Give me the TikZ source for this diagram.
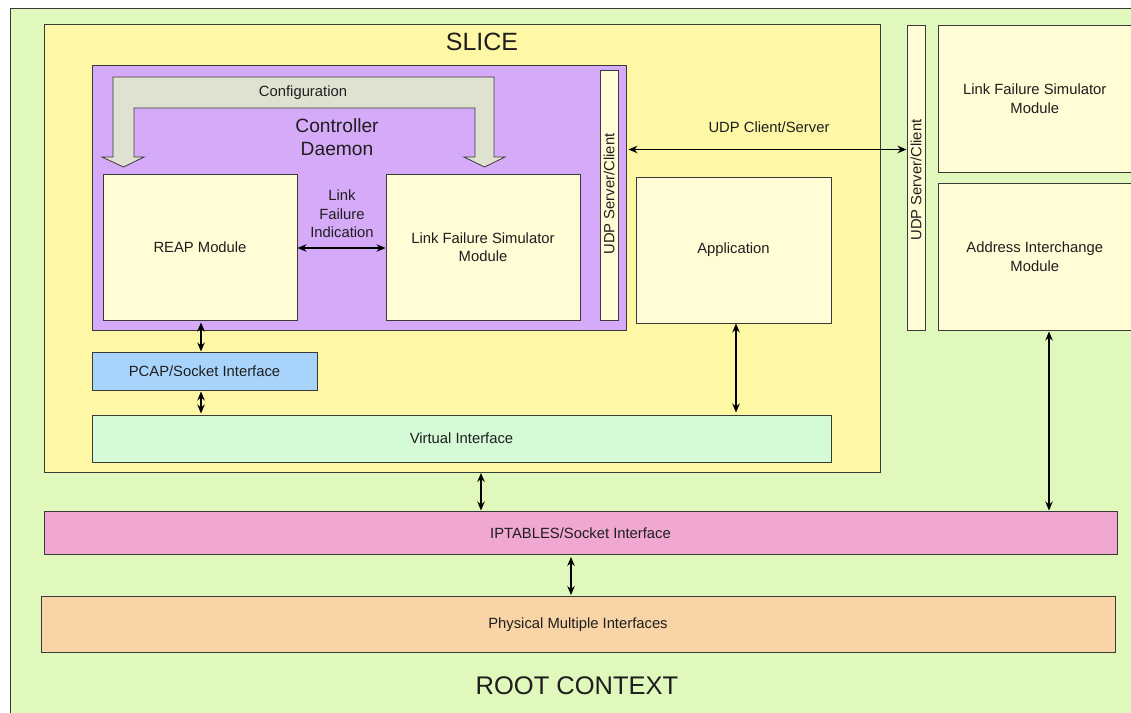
\documentclass[tikz,border=0pt]{standalone}
\usepackage{fontspec}
\setmainfont{Liberation Sans}
\usetikzlibrary{arrows.meta}
\definecolor{rootc}{RGB}{224,248,188}
\definecolor{slicec}{RGB}{254,248,166}
\definecolor{daemonc}{RGB}{213,170,248}
\definecolor{cfgc}{RGB}{223,226,208}
\definecolor{creamc}{RGB}{255,252,214}
\definecolor{pcapc}{RGB}{168,212,252}
\definecolor{virtc}{RGB}{212,250,214}
\definecolor{iptc}{RGB}{240,168,208}
\definecolor{physc}{RGB}{248,212,166}
\definecolor{edgec}{RGB}{58,58,58}
\definecolor{txtc}{RGB}{30,30,30}
\begin{document}
\begin{tikzpicture}[x=1pt,y=-1pt,
  box/.style={draw=edgec, line width=1pt, inner sep=0pt, align=center, text=txtc,
    font=\fontsize{14.8}{18.5}\selectfont},
  lbl/.style={inner sep=0pt, align=center, text=txtc, font=\fontsize{14.8}{18.5}\selectfont},
  link/.style={{Stealth[length=9pt,width=7.5pt,inset=3pt]}-{Stealth[length=9pt,width=7.5pt,inset=3pt]},
    line width=1.1pt, draw=black}]
\useasboundingbox (0,0) rectangle (1131,712);
\clip (0,0) rectangle (1131,712);
\fill[white] (0,0) rectangle (1131,712);
% containers
\node[box, fill=rootc, minimum width=1130pt, minimum height=712pt] (root) at (575,364) {};
\node[box, fill=slicec, minimum width=836pt, minimum height=448pt] (slice) at (462,248.5) {};
\node[box, fill=daemonc, minimum width=534pt, minimum height=265pt] (daemon) at (359,197.5) {};
% configuration arrow
\draw[draw=edgec, fill=cfgc, line width=0.8pt] (113,77) -- (494,77) -- (494,157) -- (505,157)
  -- (484.5,167) -- (464,157) -- (475,157) -- (475,108) -- (134,108) -- (134,157)
  -- (144,157) -- (123.5,167) -- (102,157) -- (113,157) -- cycle;
\node[lbl] (cfglbl) at (303,93) {Configuration};
\node[lbl, font=\fontsize{19.2}{23}\selectfont] (daemonlbl) at (337,137) {Controller\\Daemon};
\node[lbl, font=\fontsize{25}{30}\selectfont] (slicelbl) at (482,42) {SLICE};
\node[lbl, font=\fontsize{25.5}{30}\selectfont] (rootlbl) at (577,686) {ROOT CONTEXT};
% modules
\node[box, fill=creamc, minimum width=194pt, minimum height=146pt] (reap) at (200,247) {REAP Module};
\node[box, fill=creamc, minimum width=194pt, minimum height=146pt] (lfs) at (483,247) {Link Failure Simulator\\Module};
\node[box, fill=creamc, minimum width=18pt, minimum height=250pt] (udp1) at (609,195) {};
\node[lbl, rotate=90] (udp1lbl) at (609,194) {UDP Server/Client};
\node[box, fill=creamc, minimum width=195pt, minimum height=146pt] (app) at (733.5,250) {Application};
\node[box, fill=creamc, minimum width=18pt, minimum height=305pt] (udp2) at (916,177.5) {};
\node[lbl, rotate=90] (udp2lbl) at (916,180) {UDP Server/Client};
\node[box, fill=creamc, minimum width=193.5pt, minimum height=147pt] (lfs2) at (1034.75,98.5) {Link Failure Simulator\\Module};
\node[box, fill=creamc, minimum width=193.5pt, minimum height=146.5pt] (aim) at (1034.75,256.75) {Address Interchange\\Module};
\node[box, fill=pcapc, minimum width=225pt, minimum height=38pt] (pcap) at (204.5,371) {PCAP/Socket Interface};
\node[box, fill=virtc, minimum width=739pt, minimum height=47pt] (virt) at (461.5,438.5) {Virtual Interface};
\node[box, fill=iptc, minimum width=1073pt, minimum height=43.5pt] (ipt) at (580.5,532.75) {IPTABLES/Socket Interface};
\node[box, fill=physc, minimum width=1074pt, minimum height=56pt] (phys) at (578,624.5) {Physical Multiple Interfaces};
% labels
\node[lbl] (lfilbl) at (342,214) {Link\\Failure\\Indication};
\node[lbl] (udplbl) at (769,127) {UDP Client/Server};
% connectors
\draw[link] ([yshift=-1pt]reap.east) -- ([yshift=-1pt]lfs.west);
\draw[link, shorten <=10pt] ([yshift=45.5pt]udp1.east) -- ([yshift=45.5pt]udp1.east -| udp2.west);
\draw[link, shorten <=2pt] ([xshift=1pt]reap.south) -- ([xshift=1pt]reap.south |- pcap.north);
\draw[link, shorten <=1pt, shorten >=1pt] ([xshift=1pt]reap.south |- pcap.south) -- ([xshift=1pt]reap.south |- virt.north);
\draw[link, shorten >=2pt] ([xshift=2.5pt]app.south) -- ([xshift=2.5pt]app.south |- virt.north);
\draw[link] ([xshift=19pt]slice.south) -- ([xshift=19pt]slice.south |- ipt.north);
\draw[link, shorten <=2pt, shorten >=1pt] ([xshift=-9.5pt]ipt.south) -- ([xshift=-9.5pt]ipt.south |- phys.north);
\draw[link, shorten <=1pt] ([xshift=14.25pt]aim.south) -- ([xshift=14.25pt]aim.south |- ipt.north);
\end{tikzpicture}
\end{document}
